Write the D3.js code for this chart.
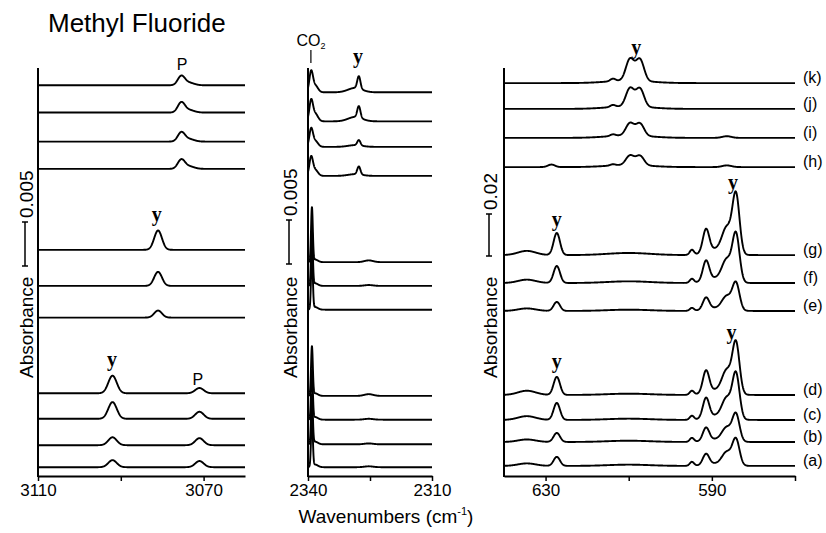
<!DOCTYPE html>
<html>
<head>
<meta charset="utf-8">
<script src="https://cdn.jsdelivr.net/npm/d3@7"></script>
<style>
  html, body { margin: 0; padding: 0; background: #fff; }
  svg { display: block; font-family: "Liberation Sans", Arial, sans-serif; }
</style>
</head>
<body>
<div id="container"></div>
<script>
//### DATA ###
//>>> Left panel: C-H stretch region (traces listed top to bottom)
const leftDomain = [3110, 3060];
const leftTicks = [3110, 3090, 3070];
const leftTickLabels = [3110, 3070];
const leftOffsets = [0.0444, 0.0413, 0.0380, 0.0349, 0.0257, 0.0216, 0.0180, 0.0094, 0.0065, 0.0035, 0.0010];
const leftPeakCenters = [3092.0, 3081.0, 3075.4, 3073.6, 3071.0];
const leftPeakFwhm = [2.4, 2.2, 2.0, 3.0, 2.4];
const leftPeakHeights = [
  [0, 0, 0.0010, 0.0003, 0],
  [0, 0, 0.0011, 0.0003, 0],
  [0, 0, 0.0010, 0.0003, 0],
  [0, 0, 0.0010, 0.0003, 0],
  [0, 0.0022, 0, 0, 0],
  [0, 0.0016, 0, 0, 0],
  [0, 0.0008, 0, 0, 0],
  [0.0020, 0, 0, 0, 0.0006],
  [0.0019, 0, 0, 0, 0.0008],
  [0.0009, 0, 0, 0, 0.0008],
  [0.0008, 0, 0, 0, 0.0007]
];

//>>> Middle panel: CO2 region
const middleDomain = [2340, 2310];
const middleTicks = [2340, 2325, 2310];
const middleTickLabels = [2340, 2310];
const middleOffsets = [0.0436, 0.0403, 0.0374, 0.0341, 0.0243, 0.0216, 0.0189, 0.0091, 0.0064, 0.0036, 0.0010];
const middlePeakCenters = [2339.25, 2338.3, 2339.05, 2327.7, 2328.6, 2325.3];
const middlePeakFwhm = [1.0, 1.6, 0.5, 0.9, 4.0, 2.5];
const middlePeakHeights = [
  [0.0022, 0.0008, 0, 0.0014, 0.0005, 0],
  [0.0022, 0.0009, 0, 0.0013, 0.0005, 0],
  [0.0019, 0.0007, 0, 0.0006, 0.0002, 0],
  [0.0020, 0.0007, 0, 0.0009, 0.0002, 0],
  [0, 0.0003, 0.0061, 0, 0, 0.0002],
  [0, 0.0003, 0.0061, 0, 0, 0.0001],
  [0, 0.0003, 0.0061, 0, 0, 0],
  [0, 0.0003, 0.0055, 0, 0, 0.0002],
  [0, 0.0003, 0.0055, 0, 0, 0.0001],
  [0, 0.0003, 0.0055, 0, 0, 0.0001],
  [0, 0.0003, 0.0055, 0, 0, 0.0001]
];

//>>> Right panel: bending region, traces (k) ... (a)
const rightDomain = [640, 570];
const rightTicks = [630, 610, 590, 570];
const rightTickLabels = [630, 590];
const rightTraceNames = ['(k)', '(j)', '(i)', '(h)', '(g)', '(f)', '(e)', '(d)', '(c)', '(b)', '(a)'];
const rightOffsets = [0.1871, 0.1748, 0.1610, 0.1471, 0.1052, 0.0919, 0.0786, 0.0386, 0.0267, 0.0162, 0.0048];
const rightPeakCenters = [634.5, 628.6, 627.3, 613.8, 610.0, 609.7, 607.3, 594.8, 591.4, 588.5, 586.4, 584.2];
const rightPeakFwhm = [5, 2, 1.8, 1.5, 12, 2.3, 2.3, 1.2, 1.8, 6, 2.6, 2.0];
const rightPeakHeights = [
  [0, 0, 0, 0.0012, 0.0012, 0.0102, 0.0102, 0, 0, 0, 0, 0],
  [0, 0, 0, 0.0010, 0.0012, 0.0086, 0.0086, 0, 0, 0, 0, 0],
  [0, 0, 0, 0.0008, 0.0012, 0.0058, 0.0058, 0, 0, 0, 0.0008, 0],
  [0, 0.0012, 0, 0.0006, 0.0010, 0.0045, 0.0045, 0, 0, 0, 0.0008, 0],
  [0.0020, 0, 0.0105, 0, 0.0010, 0, 0, 0.0024, 0.0110, 0.0030, 0.0110, 0.0280],
  [0.0016, 0, 0.0081, 0, 0.0008, 0, 0, 0.0019, 0.0095, 0.0025, 0.0095, 0.0225],
  [0.0012, 0, 0.0043, 0, 0.0006, 0, 0, 0.0014, 0.0057, 0.0015, 0.0060, 0.0128],
  [0.0020, 0, 0.0086, 0, 0.0006, 0, 0, 0.0019, 0.0105, 0.0025, 0.0100, 0.0240],
  [0.0018, 0, 0.0081, 0, 0.0006, 0, 0, 0.0019, 0.0095, 0.0022, 0.0090, 0.0213],
  [0.0012, 0, 0.0043, 0, 0.0006, 0, 0, 0.0019, 0.0062, 0.0014, 0.0060, 0.0128],
  [0.0012, 0, 0.0043, 0, 0.0006, 0, 0, 0.0019, 0.0052, 0.0012, 0.0058, 0.0123]
];

//>>> Peak annotations [text, wavenumber, absorbance of text baseline]
const leftMarks = [['P', 3075.2, 0.0461], ['y', 3081.3, 0.0290], ['y', 3092.1, 0.0125], ['P', 3071.4, 0.0103]];
const middleMarks = [['y', 2327.9, 0.0469]];
const rightMarks = [['y', 608.2, 0.2009], ['y', 627.3, 0.1190], ['y', 584.9, 0.1366], ['y', 627.3, 0.0514], ['y', 585.3, 0.0652]];

//>>> Scale bar sizes (absorbance)
const leftBar = 0.005;
const middleBar = 0.005;
const rightBar = 0.02;


//### LAYOUT ###
const width = 826;
const height = 533;
const plotTop = 68;
const plotBottom = 476;

const svg = d3.select('#container').append('svg')
  .attr('width', width)
  .attr('height', height);

//>>> Gaussian line shape
const gauss = (x, c, fwhm) => {
  const s = fwhm / 2.3548;
  return Math.exp(-((x - c) * (x - c)) / (2 * s * s));
};

function drawPanel(p) {
  const x = d3.scaleLinear().domain(p.domain).range([p.x0, p.x1]);
  const y = d3.scaleLinear().domain([0, p.yMax]).range([plotBottom, plotTop]);
  const g = svg.append('g');

  //_____ X AXIS _____
  const xAxis = d3.axisBottom(x)
    .tickValues(p.ticks)
    .tickSize(5)
    .tickSizeOuter(0)
    .tickFormat(d => p.tickLabels.includes(d) ? d : '');
  const ax = g.append('g')
    .attr('transform', `translate(0,${plotBottom})`)
    .call(xAxis);
  ax.select('.domain').attr('stroke', '#000').attr('stroke-width', 2);
  ax.selectAll('.tick line').attr('stroke', '#000').attr('stroke-width', 1.5);
  ax.selectAll('.tick text')
    .attr('fill', '#000')
    .attr('font-size', 17)
    .attr('font-family', '"Liberation Sans", Arial, sans-serif');

  //_____ Y AXIS LINE _____
  g.append('line')
    .attr('x1', p.x0).attr('x2', p.x0)
    .attr('y1', plotTop).attr('y2', plotBottom + 1)
    .attr('stroke', '#000').attr('stroke-width', 2);

  //_____ TRACES _____
  const n = 900;
  const wn = d3.range(n + 1).map(i => p.domain[0] + (p.domain[1] - p.domain[0]) * i / n);
  const line = d3.line().x(d => x(d[0])).y(d => y(d[1]));
  p.offsets.forEach((off, t) => {
    const pts = wn.map(w => [w, off + d3.sum(p.centers, (c, k) => p.heights[t][k] * gauss(w, c, p.fwhm[k]))]);
    g.append('path')
      .attr('d', line(pts))
      .attr('fill', 'none')
      .attr('stroke', '#000')
      .attr('stroke-width', 1.9)
      .attr('stroke-linejoin', 'round');
  });

  //_____ PEAK LABELS _____
  p.marks.forEach(([txt, w, a]) => {
    const t = g.append('text')
      .attr('x', x(w))
      .attr('y', y(a))
      .attr('text-anchor', 'middle')
      .attr('fill', '#000')
      .text(txt);
    if (txt === 'y') {
      t.attr('font-family', '"Liberation Serif", "Times New Roman", serif')
        .attr('font-weight', 'bold')
        .attr('font-size', 20);
    } else {
      t.attr('font-size', 16);
    }
  });

  //_____ SCALE BAR + ROTATED LABEL _____
  const barLen = y(0) - y(p.bar);
  const barTop = p.barBottom - barLen;
  const bx = p.labelX - 8;
  g.append('text')
    .attr('transform', `translate(${p.labelX},378) rotate(-90)`)
    .attr('font-size', 19)
    .text('Absorbance');
  g.append('line')
    .attr('x1', bx).attr('x2', bx)
    .attr('y1', barTop).attr('y2', p.barBottom)
    .attr('stroke', '#000').attr('stroke-width', 1.5);
  [barTop, p.barBottom].forEach(yy => {
    g.append('line')
      .attr('x1', bx - 3).attr('x2', bx + 3)
      .attr('y1', yy).attr('y2', yy)
      .attr('stroke', '#000').attr('stroke-width', 1.5);
  });
  g.append('text')
    .attr('transform', `translate(${p.labelX},${barTop - 4}) rotate(-90)`)
    .attr('font-size', 19)
    .text(p.bar === 0.02 ? '0.02' : '0.005');

  return { g, x, y };
}

const left = drawPanel({
  domain: leftDomain, ticks: leftTicks, tickLabels: leftTickLabels,
  offsets: leftOffsets, centers: leftPeakCenters, fwhm: leftPeakFwhm, heights: leftPeakHeights,
  marks: leftMarks, bar: leftBar,
  x0: 38, x1: 245, yMax: 0.005 * 408 / 44, labelX: 33, barBottom: 266
});

const middle = drawPanel({
  domain: middleDomain, ticks: middleTicks, tickLabels: middleTickLabels,
  offsets: middleOffsets, centers: middlePeakCenters, fwhm: middlePeakFwhm, heights: middlePeakHeights,
  marks: middleMarks, bar: middleBar,
  x0: 308, x1: 432, yMax: 0.005 * 408 / 44, labelX: 297, barBottom: 264
});

const right = drawPanel({
  domain: rightDomain, ticks: rightTicks, tickLabels: rightTickLabels,
  offsets: rightOffsets, centers: rightPeakCenters, fwhm: rightPeakFwhm, heights: rightPeakHeights,
  marks: rightMarks, bar: rightBar,
  x0: 504, x1: 795, yMax: 0.02 * 408 / 42, labelX: 497, barBottom: 256
});

//>>> Trace labels (a)...(k)
right.g.selectAll('.trace-label')
  .data(rightTraceNames)
  .enter().append('text')
  .attr('class', 'trace-label')
  .attr('x', 803)
  .attr('y', (d, i) => right.y(rightOffsets[i]) - 6)
  .attr('dy', '0.35em')
  .attr('font-size', 16)
  .text(d => d);

//>>> CO2 marker
const co2x = middle.x(2339.3);
middle.g.append('line')
  .attr('x1', co2x).attr('x2', co2x)
  .attr('y1', 50).attr('y2', 63)
  .attr('stroke', '#000').attr('stroke-width', 1.2);
const co2 = middle.g.append('text')
  .attr('x', co2x)
  .attr('y', 46)
  .attr('text-anchor', 'middle')
  .attr('font-size', 16);
co2.append('tspan').text('CO');
co2.append('tspan').attr('font-size', 9).attr('dy', 3).text('2');

//>>> Title
svg.append('text')
  .attr('x', 48)
  .attr('y', 32)
  .attr('font-size', 26)
  .text('Methyl Fluoride');

//>>> X axis title
const xt = svg.append('text')
  .attr('x', 386)
  .attr('y', 523)
  .attr('text-anchor', 'middle')
  .attr('font-size', 19);
xt.append('tspan').text('Wavenumbers (cm');
xt.append('tspan').attr('font-size', 11).attr('dy', -8).text('-1');
xt.append('tspan').attr('dy', 8).text(')');
</script>
</body>
</html>
